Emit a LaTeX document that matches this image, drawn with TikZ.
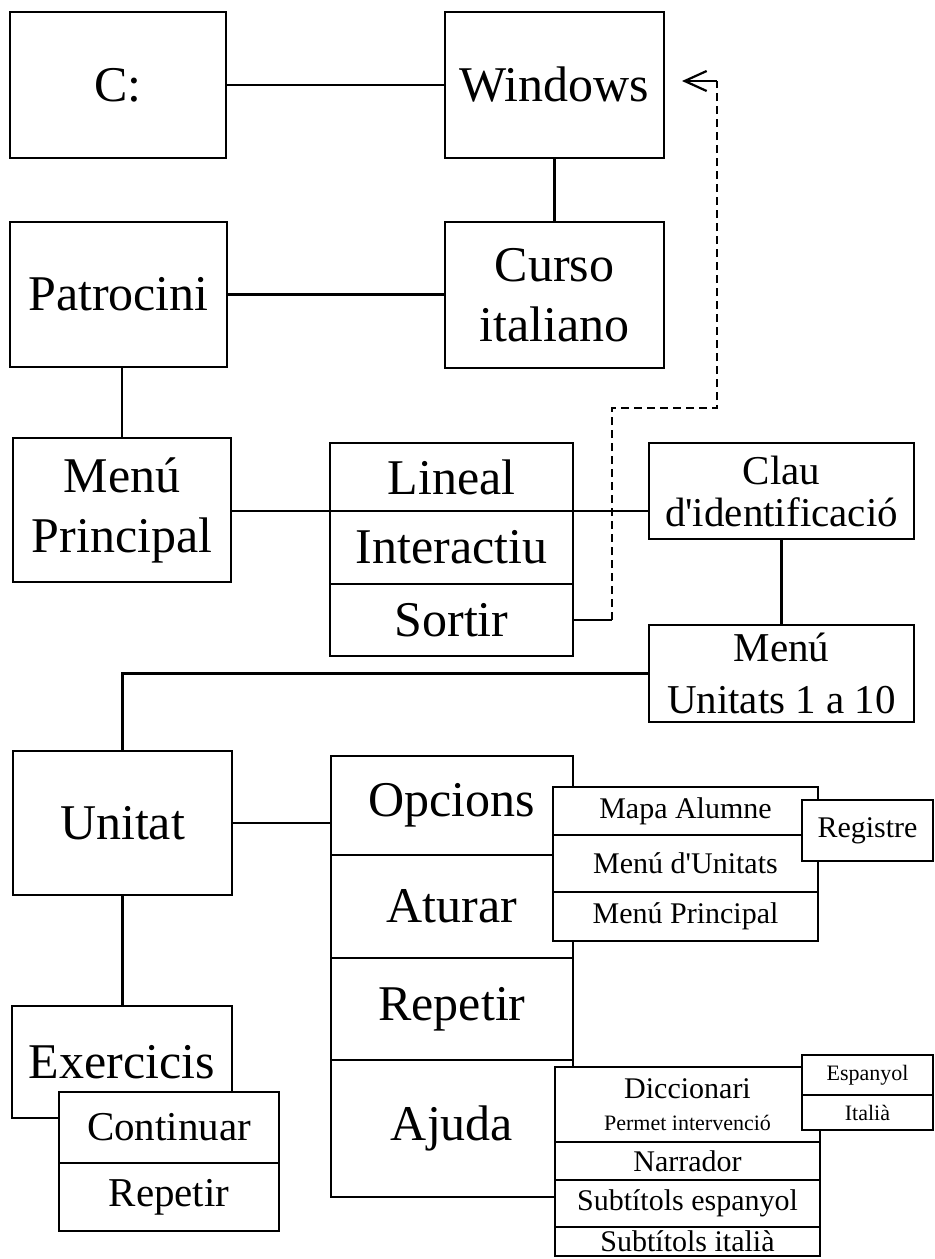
\documentclass[tikz,border=0pt]{standalone}
\usepackage{fontspec}
\setmainfont{Liberation Serif}
\usetikzlibrary{positioning,arrows.meta}

\newcommand{\bigtxt}{\fontsize{25}{30}\selectfont}
\newcommand{\medtxt}{\fontsize{20.5}{21}\selectfont}
\newcommand{\smalltxt}{\fontsize{15}{16}\selectfont}
\newcommand{\tinytxt}{\fontsize{11}{13}\selectfont}

\tikzset{
  box/.style 2 args={draw, line width=1.1pt, fill=white, inner sep=0pt, outer sep=0pt,
    align=center, minimum width=#1*0.5pt, minimum height=#2*0.5pt},
  link/.style={line width=1.1pt},
  back/.style={line width=0.6pt, dash pattern=on 4pt off 2.5pt},
}

\begin{document}
\begin{tikzpicture}[x=0.5pt, y=-0.5pt, font=\bigtxt]
\useasboundingbox (0,0) rectangle (935,1259);

% start
\node [box={216}{146}] (c) at (118,85) {C:};
\node [box={219}{146}] (windows) at (554.5,85) {Windows};
\node [box={219}{146}] (curso) at (554.5,295) {Curso\\italiano};
\node [box={217}{145}] (patrocini) at (118.5,294.5) {Patrocini};
\node [box={218}{144}] (menu) at (122,510) {Menú\\Principal};

% modes
\node [box={243}{68}] (lineal) at (451.5,477) {Lineal};
\node [box={243}{73}, below=0pt of lineal] (interactiu) {Interactiu};
\node [box={243}{72}, below=0pt of interactiu] (sortir) {Sortir};
\node [box={265}{96}, font=\medtxt] (clau) at (781.5,491) {Clau\\d\textquotesingle identificació};
\node [box={265}{97}, font=\fontsize{20.5}{26}\selectfont] (unitats) at (781.5,673.5) {Menú\\Unitats 1 a 10};

% unit
\node [box={219}{144}] (unitat) at (122.5,823) {Unitat};
\node [box={242}{99}] (opcions) at (452,805.5) {Opcions};
\node [box={242}{103}, below=0pt of opcions] (aturar) {Aturar};
\node [box={242}{102}, below=0pt of aturar] (repetir) {Repetir};
\node [box={242}{137}, below=0pt of repetir] (ajuda) {Ajuda};
\node [box={220}{112}] (exercicis) at (122,1062) {Exercicis};
\node [box={220}{71}, font=\medtxt] (continuar) at (169,1127.5) {Continuar};
\node [box={220}{68}, font=\medtxt, below=0pt of continuar] (repetirex) {Repetir};

\draw [link] (c) -- (windows);
\draw [link] (windows) -- (curso);
\draw [link] (patrocini.east) -- (patrocini.east -| curso.west);
\draw [link] (menu.north) -- (menu.north |- patrocini.south);
\draw [link] (menu.east |- lineal.south) -- (clau.west |- lineal.south);
\draw [link] (clau) -- (unitats);
\draw [link] (unitats.west) -| (unitat.north);
\draw [link] (unitat.east) -- (unitat.east -| opcions.west);
\draw [link] (unitat.south) -- (unitat.south |- exercicis.north);

% back to windows
\coordinate (turn1) at (612,408);
\coordinate (turn2) at (717,408);
\coordinate (tip) at (682,81);
\draw [link] (sortir.east) -- (sortir.east -| turn1);
\draw [back] (sortir.east -| turn1) -- (turn1) -- (turn2) -- (turn2 |- tip);
\draw [link, -{Straight Barb[length=11pt,width=10pt]}] (turn2 |- tip) -- (tip);

% submenus
\node [box={265}{48}, font=\smalltxt] (mapa) at (685.5,811) {Mapa Alumne};
\node [box={265}{57}, font=\smalltxt, below=0pt of mapa] (menuunitats) {Menú d\textquotesingle Unitats};
\node [box={265}{49}, font=\smalltxt, below=0pt of menuunitats] (menuprincipal) {Menú Principal};
\node [box={131}{61}, font=\smalltxt] (registre) at (867.5,830.5) {Registre};

\node [box={265}{75}, font=\smalltxt] (diccionari) at (687.5,1104.5) {Diccionari\\{\tinytxt Permet intervenció}};
\node [box={265}{38}, font=\smalltxt, below=0pt of diccionari] (narrador) {Narrador};
\node [box={265}{47}, font=\smalltxt, below=0pt of narrador] (subesp) {Subtítols espanyol};
\node [box={265}{29}, font=\smalltxt, below=0pt of subesp] (subita) {Subtítols italià};
\node [box={131}{40}, font=\tinytxt] (espanyol) at (867.5,1075) {Espanyol};
\node [box={131}{35}, font=\tinytxt, below=0pt of espanyol] (italia) {Italià};
\end{tikzpicture}
\end{document}
